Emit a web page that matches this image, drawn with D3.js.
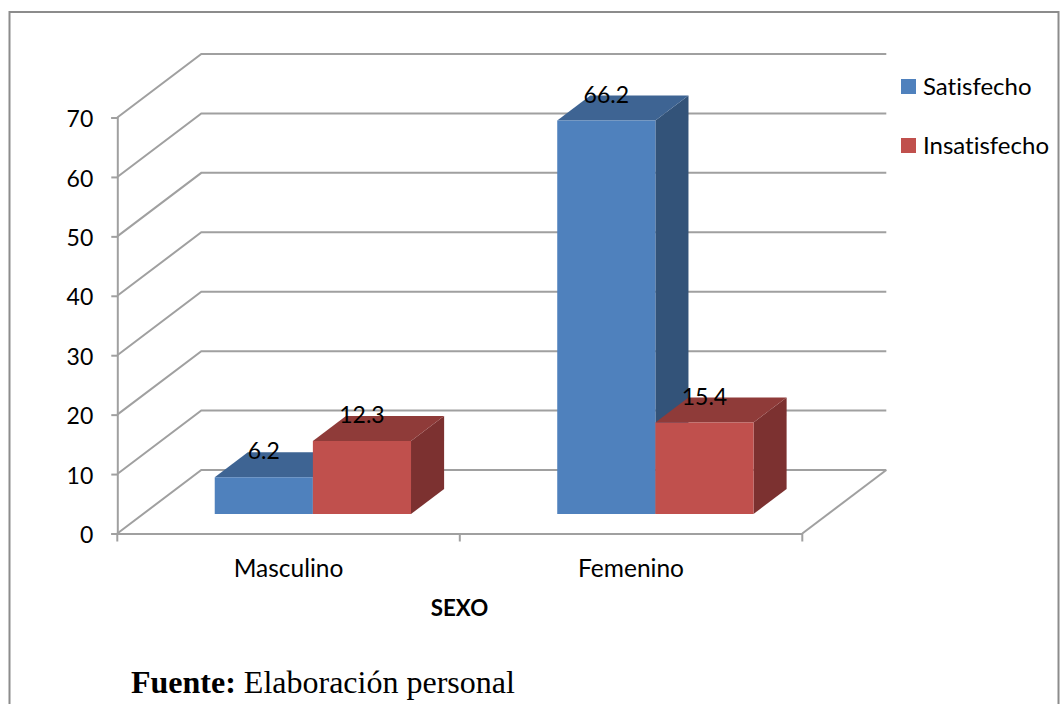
<!DOCTYPE html>
<html><head><meta charset="utf-8">
<script src="https://cdn.jsdelivr.net/npm/d3@7/dist/d3.min.js"></script>
<style>html,body{margin:0;background:#fff}svg{display:block}text{font-variant-ligatures:none}</style></head>
<body><svg id="c" width="1061" height="704"></svg>
<script>
const categories = ["Masculino", "Femenino"];
const seriesNames = ["Satisfecho", "Insatisfecho"];
const satisfecho = [6.2, 66.2];
const insatisfecho = [12.3, 15.4];
const yTicks = [0, 10, 20, 30, 40, 50, 60, 70];
const axisTitle = "SEXO";
const sourceBold = "Fuente:";
const sourceText = " Elaboración personal";

const fills = {Satisfecho:["#4f81bd","#3e6493","#335379"], Insatisfecho:["#c0504d","#8f3b39","#7c3130"]};
const svg = d3.select("#c");
const font = "Lato, Carlito, sans-serif";
const grid = "#a0a0a0";

svg.append("rect").attr("x",9.5).attr("y",12).attr("width",1049).attr("height",720)
  .attr("fill","#fff").attr("stroke","#8c8c8c").attr("stroke-width",2);

const y = d3.scaleLinear().domain([0,70]).range([533.5,117.5]);
const x0 = d3.scaleBand().domain(categories).range([117.3,802.3]);
const x1 = d3.scaleBand().domain(seriesNames).range([0,x0.bandwidth()]).paddingOuter(0.745).paddingInner(0).align(0.49);
const depthX = d3.scaleLinear().domain([0,1]).range([0,84]);
const depthY = d3.scaleLinear().domain([0,1]).range([0,-63.5]);
const right = x0.range()[1], left = x0.range()[0];
const P = (px,py,d)=>[px+depthX(d),py+depthY(d)];
const line = d3.line();

// walls
const walls = svg.append("g").attr("fill","none").attr("stroke",grid).attr("stroke-width",2);
yTicks.forEach(t=>{
  walls.append("path").attr("d",line([P(left,y(t),0),P(left,y(t),1),P(right,y(t),1)]));
});
walls.append("path").attr("d",line([P(right,y(0),0),P(right,y(0),1)]));

// axes
const gy = svg.append("g").attr("transform",`translate(${left},0)`)
  .call(d3.axisLeft(y).tickValues(yTicks).tickSize(6).tickPadding(18));
const gx = svg.append("g").attr("transform",`translate(0,${y(0)})`)
  .call(d3.axisBottom(x0).tickSize(0).tickPadding(26));
[left,...categories.map(c=>x0(c)+x0.bandwidth())].forEach(t=>{
  gx.append("line").attr("x1",t).attr("x2",t).attr("y1",0).attr("y2",8).attr("stroke",grid).attr("stroke-width",2);
});
[gy,gx].forEach(g=>{
  g.selectAll(".domain").attr("stroke",grid).attr("stroke-width",2);
  g.selectAll(".tick line").attr("stroke",grid).attr("stroke-width",2);
  g.selectAll("text").attr("fill","#000").style("font-family",font).style("font-size","23px");
});
gy.selectAll("text").attr("dy","0.4em");
gx.selectAll("text").style("font-size","24.5px");

// bars
const barDepthFront = 0.307, barDepthBack = 0.701;
const values = {Satisfecho:satisfecho, Insatisfecho:insatisfecho};
const bars = svg.append("g");
const labels = [];
categories.forEach((c,i)=>{
  seriesNames.forEach(s=>{
    const v = values[s][i];
    const xa = x0(c)+x1(s), xb = xa+x1.bandwidth();
    const yb = y(0), yt = y(v);
    const a = P(xa,yb,barDepthFront), b = P(xb,yb,barDepthFront);
    const ta = P(xa,yt,barDepthFront), tb = P(xb,yt,barDepthFront);
    const bb = P(xb,yb,barDepthBack), tbb = P(xb,yt,barDepthBack), tab = P(xa,yt,barDepthBack);
    const f = fills[s];
    bars.append("path").attr("d",line([b,tb,tbb,bb])+"Z").attr("fill",f[2]);
    bars.append("path").attr("d",line([ta,tb,tbb,tab])+"Z").attr("fill",f[1]);
    bars.append("path").attr("d",line([a,b,tb,ta])+"Z").attr("fill",f[0]);
    labels.push({t:d3.format(".1f")(v),x:(a[0]+b[0])/2,y:ta[1]-26});
  });
});
svg.append("g").selectAll("text").data(labels).join("text")
  .attr("x",d=>d.x).attr("y",d=>d.y).attr("dy","0.35em").attr("text-anchor","middle")
  .style("font-family",font).style("font-size","23px").attr("fill","#000").text(d=>d.t);

// legend
const lg = d3.scaleBand().domain(seriesNames).range([57,175]);
seriesNames.forEach(s=>{
  const cy = lg(s)+lg.bandwidth()/2;
  svg.append("rect").attr("x",901).attr("y",cy-7.5).attr("width",15).attr("height",15).attr("fill",fills[s][0]);
  svg.append("text").attr("x",923).attr("y",cy).attr("dy","0.35em")
    .style("font-family",font).style("font-size","24px").attr("fill","#000").text(s);
});

// titles
svg.append("text").attr("x",459.5).attr("y",608).attr("dy","0.35em").attr("text-anchor","middle")
  .style("font-family",font).style("font-size","22.3px").style("font-weight","700").text(axisTitle);
const src = svg.append("text").attr("x",131).attr("y",693)
  .style("font-family","'Liberation Serif', serif").style("font-size","32px").attr("fill","#000");
src.append("tspan").style("font-weight","700").text(sourceBold);
src.append("tspan").text(sourceText);
</script></body></html>
